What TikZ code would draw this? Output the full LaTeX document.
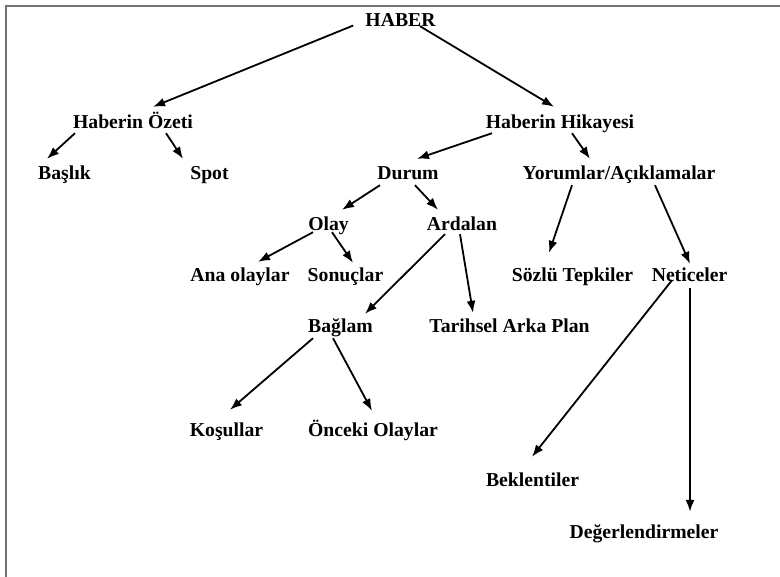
\documentclass[tikz,border=0pt]{standalone}
\usepackage{fontspec}
\setmainfont{Liberation Serif}[BoldFont={Liberation Serif Bold}]
\usepackage{tikz}
\usetikzlibrary{arrows.meta}
\tikzstyle{line} = [draw, line width=1.8pt, -{Latex[length=12pt,width=9pt]}]
\tikzstyle{word} = [inner sep=0pt, text height=13pt, text depth=4pt, font=\fontsize{19.7}{20}\selectfont\bfseries]
\tikzstyle{frame} = [draw, line width=1.5pt, color=black!55]
\begin{document}
\begin{tikzpicture}[x=1pt, y=1pt]
\useasboundingbox (0,0) rectangle (780,-577);
\draw [frame] (6,-577) |- (780,-6);

\node [word] (haber) at (400.5,-22.5) {HABER};
\node [word, below of = haber, node distance = 102pt, xshift=-267.5pt] (ozet) {Haberin Özeti};
\node [word, below of = haber, node distance = 102pt, xshift=159.5pt] (hikaye) {Haberin Hikayesi};
\path [line] ([xshift=-12pt,yshift=-3pt]haber.west) to ([xshift=20pt,yshift=9pt]ozet.north);
\path [line] ([xshift=19.5pt,yshift=5pt]haber.south) to ([xshift=-6pt,yshift=9pt]hikaye.north);


\node [word, below of = ozet, node distance = 51pt, xshift=-68.5pt] (baslik) {Başlık};
\node [word, below of = ozet, node distance = 51pt, xshift=76.5pt] (spot) {Spot};
\path [line] ([xshift=-58pt]ozet.south) to ([xshift=-17.5pt,yshift=8pt]baslik.north);
\path [line] ([xshift=33pt]ozet.south) to ([xshift=-26.5pt,yshift=8pt]spot.north);


\node [word, below of = hikaye, node distance = 51pt, xshift=-152pt] (durum) {Durum};
\node [word, below of = hikaye, node distance = 51pt, xshift=59pt] (yorum) {Yorumlar/Açıklamalar};
\path [line] ([xshift=-68pt]hikaye.south) to ([xshift=9pt,yshift=8pt]durum.north);
\path [line] ([xshift=12pt]hikaye.south) to ([xshift=-29pt,yshift=8pt]yorum.north);


\node [word, below of = durum, node distance = 51pt, xshift=-79.5pt] (olay) {Olay};
\node [word, below of = durum, node distance = 51pt, xshift=54pt] (ardalan) {Ardalan};
\path [line] ([xshift=-28pt,yshift=-1pt]durum.south) to ([xshift=13.5pt,yshift=8pt]olay.north);
\path [line] ([xshift=7pt,yshift=-1pt]durum.south) to ([xshift=-24pt,yshift=8pt]ardalan.north);


\node [word, below of = olay, node distance = 51pt, xshift=-88.5pt] (anaolay) {Ana olaylar};
\node [word, below of = olay, node distance = 51pt, xshift=17pt] (sonuc) {Sonuçlar};
\path [line] ([xshift=-15.5pt,yshift=3pt]olay.south) to ([xshift=18pt,yshift=7pt]anaolay.north);
\path [line] ([xshift=3.5pt,yshift=3pt]olay.south) to ([xshift=7.5pt,yshift=6pt]sonuc.north);


\node [word, below of = yorum, node distance = 102pt, xshift=-46.5pt] (sozlu) {Sözlü Tepkiler};
\node [word, below of = yorum, node distance = 102pt, xshift=70.5pt] (netice) {Neticeler};
\path [line] ([xshift=-47pt,yshift=-1pt]yorum.south) to ([xshift=-23.5pt,yshift=16pt]sozlu.north);
\path [line] ([xshift=36pt,yshift=-1pt]yorum.south) to ([xshift=0.5pt,yshift=5pt]netice.north);


\node [word, below of = ardalan, node distance = 102pt, xshift=-121.5pt] (baglam) {Bağlam};
\node [word, below of = ardalan, node distance = 102pt, xshift=47.5pt] (tarih) {Tarihsel Arka Plan};
\path [line] ([xshift=-17pt,yshift=1pt]ardalan.south) to ([xshift=24.5pt,yshift=6pt]baglam.north);
\path [line] ([xshift=-2pt,yshift=1pt]ardalan.south) to ([xshift=-36.5pt,yshift=7pt]tarih.north);


\node [word, below of = baglam, node distance = 104pt, xshift=-114pt] (kosul) {Koşullar};
\node [word, below of = baglam, node distance = 104pt, xshift=32.5pt] (onceki) {Önceki Olaylar};
\path [line] ([xshift=-27.5pt,yshift=-1pt]baglam.south) to ([xshift=3.5pt,yshift=14pt]kosul.north);
\path [line] ([xshift=-7.5pt,yshift=-1pt]baglam.south) to ([xshift=-1pt,yshift=13pt]onceki.north);


\node [word, below of = netice, node distance = 204pt, xshift=-157pt] (beklenti) {Beklentiler};
\node [word, below of = netice, node distance = 256pt, xshift=-45.5pt] (deger) {Değerlendirmeler};
\path [line] ([xshift=-17.5pt,yshift=6pt]netice.south) to ([xshift=-0.5pt,yshift=16pt]beklenti.north);
\path [line] ([xshift=0.5pt,yshift=-2pt]netice.south) to ([xshift=46pt,yshift=13pt]deger.north);

\end{tikzpicture}
\end{document}
